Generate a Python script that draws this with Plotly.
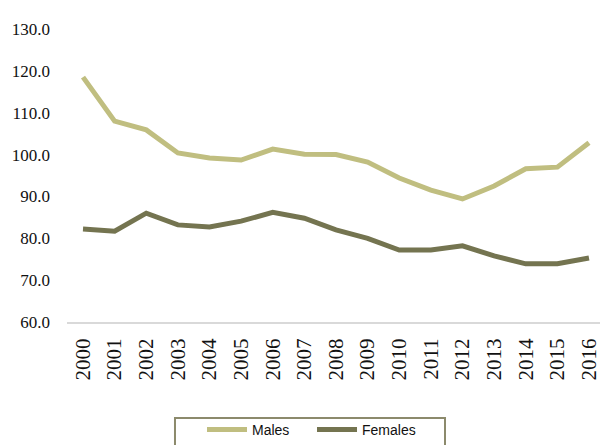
import plotly.graph_objects as go

# Annual rates by sex, 2000-2016
years = list(range(2000, 2017))
males = [118.5, 108.0, 105.9, 100.4, 99.2, 98.7, 101.3, 100.1, 100.0, 98.2,
         94.4, 91.5, 89.4, 92.5, 96.6, 97.0, 102.8]
females = [82.2, 81.7, 86.0, 83.2, 82.7, 84.1, 86.2, 84.8, 82.0, 80.0,
           77.2, 77.2, 78.2, 75.8, 73.9, 73.9, 75.3]

y_ticks = [60, 70, 80, 90, 100, 110, 120, 130]

MALE_COLOR = "#C0BE80"
FEMALE_COLOR = "#747450"
SERIF = "Liberation Serif"

fig = go.Figure()
fig.add_trace(go.Scatter(x=years, y=males, name="Males", mode="lines",
                         line=dict(color=MALE_COLOR, width=5)))
fig.add_trace(go.Scatter(x=years, y=females, name="Females", mode="lines",
                         line=dict(color=FEMALE_COLOR, width=5)))

# frame around the legend
fig.add_shape(type="rect", xref="paper", yref="paper",
              x0=0.2026, x1=0.7092, y0=-0.3276, y1=-0.6,
              line=dict(color="#8C8A6C", width=2), fillcolor="rgba(0,0,0,0)")

fig.update_layout(
    width=600, height=445,
    margin=dict(l=67, r=0, t=29, b=123, autoexpand=False),
    paper_bgcolor="white", plot_bgcolor="white",
    showlegend=True,
    legend=dict(
        orientation="h",
        x=0.2533, xanchor="left",
        y=-0.314, yanchor="top",
        bgcolor="rgba(0,0,0,0)", borderwidth=0,
        font=dict(family="Liberation Sans", size=14, color="#111"),
        entrywidth=55,
        itemwidth=40,
    ),
    xaxis=dict(
        range=[1999.494, 2016.348],
        tickmode="array", tickvals=years, ticktext=[str(y) for y in years],
        tickangle=-90,
        tickfont=dict(family=SERIF, size=21, color="#111"),
        showgrid=False, zeroline=False,
        showline=True, linecolor="#D9D9D9", linewidth=2,
        ticks="", ticklabelstandoff=6, ticklabeloverflow="allow",
    ),
    yaxis=dict(
        range=[60, 130],
        tickmode="array", tickvals=y_ticks, ticktext=[f"{v:.1f}" for v in y_ticks],
        tickfont=dict(family=SERIF, size=17, color="#111"),
        showgrid=False, zeroline=False, showline=False,
        ticks="", ticklabelstandoff=16,
    ),
)

fig.write_html("out.html")
